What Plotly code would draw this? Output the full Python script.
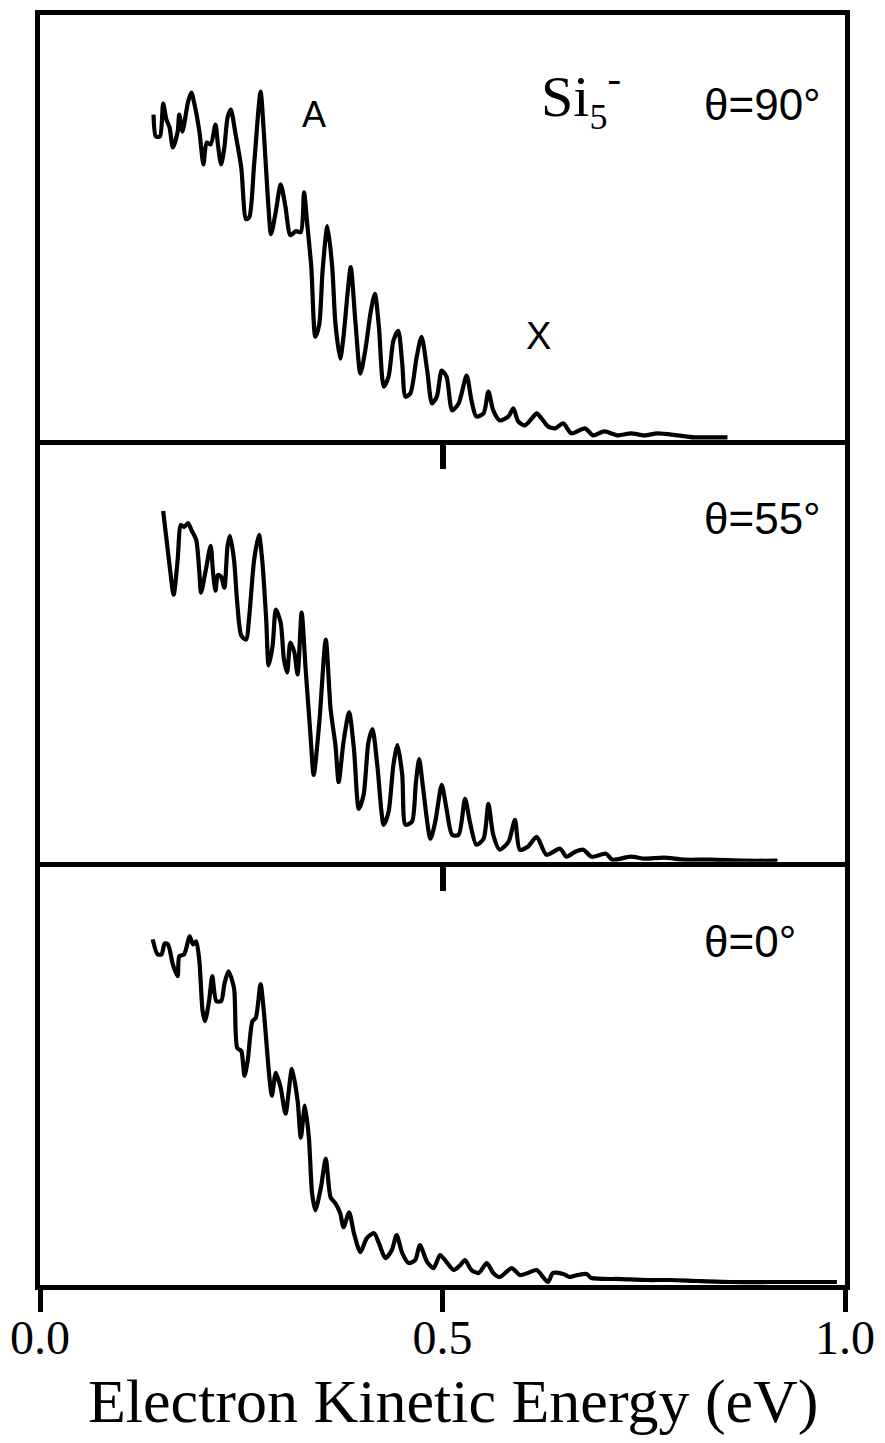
import plotly.graph_objects as go
from plotly.subplots import make_subplots

# ---- data (electron kinetic energy in eV, intensity in arbitrary units) ----
x_90 = [0.141, 0.144, 0.149, 0.153, 0.157, 0.161, 0.165, 0.171, 0.173, 0.177, 0.179, 0.184, 0.188, 0.192,
        0.198, 0.203, 0.207, 0.212, 0.218, 0.221, 0.225, 0.229, 0.233, 0.237, 0.243, 0.250, 0.256, 0.260,
        0.266, 0.274, 0.278, 0.283, 0.287, 0.293, 0.299, 0.305, 0.311, 0.318, 0.324, 0.328, 0.332, 0.337,
        0.342, 0.347, 0.351, 0.357, 0.363, 0.367, 0.373, 0.377, 0.382, 0.386, 0.392, 0.398, 0.404, 0.411,
        0.416, 0.421, 0.427, 0.433, 0.439, 0.445, 0.450, 0.454, 0.460, 0.468, 0.474, 0.481, 0.487, 0.493,
        0.499, 0.505, 0.512, 0.520, 0.530, 0.536, 0.542, 0.551, 0.557, 0.563, 0.571, 0.582, 0.588, 0.594,
        0.602, 0.611, 0.617, 0.623, 0.631, 0.640, 0.650, 0.660, 0.677, 0.687, 0.701, 0.718, 0.734, 0.751,
        0.767, 0.792, 0.813, 0.833, 0.854]
y_90 = [327, 305, 305, 338, 322, 314, 294, 310, 327, 310, 317, 340, 349, 337,
        310, 277, 299, 297, 317, 297, 277, 294, 324, 332, 307, 274, 222, 224,
        277, 350, 310, 244, 207, 230, 257, 234, 206, 210, 209, 249, 217, 174,
        104, 117, 170, 215, 174, 117, 82, 104, 147, 174, 117, 67, 90, 130,
        147, 114, 54, 64, 100, 110, 77, 44, 47, 84, 104, 70, 37, 44,
        70, 64, 30, 37, 65, 40, 24, 27, 49, 30, 20, 24, 32, 19,
        15, 22, 27, 22, 14, 12, 17, 7, 12, 5, 9, 5, 7, 5,
        7, 5, 3, 3, 3]

x_55 = [0.153, 0.161, 0.166, 0.171, 0.175, 0.179, 0.184, 0.188, 0.194, 0.198, 0.200, 0.206, 0.212, 0.215,
        0.218, 0.221, 0.225, 0.229, 0.233, 0.236, 0.241, 0.245, 0.250, 0.256, 0.260, 0.266, 0.272, 0.276,
        0.281, 0.284, 0.289, 0.293, 0.299, 0.303, 0.307, 0.311, 0.316, 0.320, 0.325, 0.330, 0.336, 0.340,
        0.347, 0.355, 0.361, 0.367, 0.371, 0.377, 0.384, 0.390, 0.396, 0.402, 0.408, 0.413, 0.419, 0.427,
        0.433, 0.439, 0.444, 0.450, 0.454, 0.462, 0.467, 0.471, 0.476, 0.485, 0.491, 0.499, 0.505, 0.512,
        0.520, 0.528, 0.534, 0.542, 0.551, 0.557, 0.563, 0.571, 0.582, 0.590, 0.596, 0.606, 0.617, 0.629,
        0.646, 0.654, 0.665, 0.675, 0.685, 0.703, 0.711, 0.734, 0.751, 0.775, 0.800, 0.833, 0.875, 0.916]
y_55 = [352, 297, 268, 303, 338, 336, 340, 333, 323, 290, 270, 293, 317, 290,
        272, 288, 286, 275, 317, 327, 303, 260, 227, 223, 247, 303, 328, 303,
        243, 197, 217, 253, 240, 203, 190, 220, 210, 188, 250, 193, 127, 87,
        140, 223, 153, 117, 80, 120, 150, 113, 53, 67, 120, 133, 97, 37,
        50, 97, 117, 87, 37, 40, 80, 103, 73, 23, 40, 77, 53, 27,
        27, 63, 40, 17, 23, 58, 27, 12, 20, 42, 12, 15, 25, 7,
        13, 5, 10, 12, 5, 8, 2, 5, 3, 4, 2, 2, 1, 1]

x_0 = [0.140, 0.146, 0.151, 0.155, 0.159, 0.165, 0.171, 0.173, 0.179, 0.186, 0.190, 0.194, 0.198, 0.202,
       0.205, 0.210, 0.214, 0.219, 0.225, 0.229, 0.234, 0.241, 0.245, 0.250, 0.254, 0.258, 0.264, 0.268,
       0.274, 0.278, 0.285, 0.288, 0.293, 0.299, 0.305, 0.313, 0.320, 0.324, 0.329, 0.334, 0.338, 0.342,
       0.349, 0.355, 0.361, 0.367, 0.373, 0.377, 0.384, 0.390, 0.398, 0.406, 0.415, 0.421, 0.429, 0.437,
       0.443, 0.450, 0.458, 0.466, 0.472, 0.481, 0.489, 0.497, 0.505, 0.514, 0.522, 0.528, 0.536, 0.545,
       0.555, 0.563, 0.571, 0.586, 0.596, 0.606, 0.617, 0.631, 0.637, 0.650, 0.658, 0.668, 0.679, 0.685,
       0.722, 0.755, 0.783, 0.817, 0.858, 0.907, 0.953, 0.990]
y_0 = [347, 332, 332, 343, 342, 322, 310, 330, 332, 350, 342, 345, 325, 275,
       265, 285, 310, 285, 285, 302, 315, 298, 238, 235, 210, 225, 265, 268,
       302, 275, 208, 190, 213, 198, 172, 217, 185, 148, 180, 148, 92, 75,
       98, 127, 88, 82, 72, 58, 73, 52, 33, 47, 52, 42, 27, 35,
       50, 32, 22, 25, 40, 23, 17, 30, 23, 15, 20, 25, 15, 12,
       22, 12, 8, 17, 10, 12, 15, 3, 12, 11, 8, 10, 11, 7,
       6, 5, 5, 4, 3, 3, 3, 3]

panel_labels = ["θ=90°", "θ=55°", "θ=0°"]
tick_vals = [0.0, 0.5, 1.0]
tick_text = ["0.0", "0.5", "1.0"]
x_title = "Electron Kinetic Energy (eV)"

# ---- figure ----
W, H = 885, 1443
L, R, T, B = 40, 37, 10, 158
fig = make_subplots(rows=3, cols=1, shared_xaxes=False, vertical_spacing=0)

series = [(x_90, y_90), (x_55, y_55), (x_0, y_0)]
for i, (xs, ys) in enumerate(series, start=1):
    fig.add_trace(go.Scatter(x=xs, y=ys, mode="lines",
                             line=dict(color="black", width=4.2, shape="spline", smoothing=0.7),
                             showlegend=False, hoverinfo="skip"), row=i, col=1)

# panel boundaries in pixels: 10 | 437 | 860 | 1285
plot_h = H - T - B
def py(p):
    return (H - B - p) / plot_h

domains = [[py(437), 1.0], [py(860), py(437)], [0.0, py(860)]]
ranges = [[0, 427], [0, 423], [0, 425]]
frame_w = 5
for i in range(3):
    xa = "xaxis" if i == 0 else f"xaxis{i+1}"
    ya = "yaxis" if i == 0 else f"yaxis{i+1}"
    last = (i == 2)
    fig.layout[xa].update(
        range=[0, 1], showgrid=False, zeroline=False,
        showline=True, linecolor="black", linewidth=frame_w,
        mirror=(i == 0),
        ticks="outside", tickcolor="black",
        tickvals=tick_vals if last else [0.5],
        ticktext=tick_text if last else ["0.5"],
        ticklen=22 if last else 24, tickwidth=5 if last else 6,
        showticklabels=last,
        ticklabelstandoff=-16 if last else 0,
        tickfont=dict(family="Liberation Serif, Times New Roman, serif", size=48, color="black"),
    )
    fig.layout[ya].update(
        domain=domains[i], range=ranges[i], showgrid=False, zeroline=False,
        showline=True, linecolor="black", linewidth=frame_w, mirror=True,
        ticks="", showticklabels=False,
    )

sans = "Liberation Sans, Arial, sans-serif"
serif = "Liberation Serif, Times New Roman, serif"
def px_x(p):
    return (p - L) / (W - L - R)

label_y = [100, 515, 940]
for lab, yy in zip(panel_labels, label_y):
    fig.add_annotation(text=lab, xref="paper", yref="paper", x=px_x(704), y=py(yy),
                       xanchor="left", yanchor="middle", showarrow=False,
                       font=dict(family=sans, size=44, color="black"))

fig.add_annotation(text="Si<sub><span style='font-size:36px'>5</span></sub><sup>-</sup>",
                   xref="paper", yref="paper",
                   x=px_x(541), y=py(92), xanchor="left", yanchor="middle", showarrow=False,
                   font=dict(family=serif, size=58, color="black"))
fig.add_annotation(text="A", xref="paper", yref="paper", x=px_x(315), y=py(110),
                   xanchor="center", yanchor="middle", showarrow=False,
                   font=dict(family=sans, size=36, color="black"))
fig.add_annotation(text="X", xref="paper", yref="paper", x=px_x(540), y=py(332),
                   xanchor="center", yanchor="middle", showarrow=False,
                   font=dict(family=sans, size=38, color="black"))
fig.add_annotation(text=x_title, xref="paper", yref="paper", x=px_x(455), y=py(1402),
                   xanchor="center", yanchor="middle", showarrow=False,
                   font=dict(family=serif, size=62, color="black"))

fig.update_layout(width=W, height=H, margin=dict(l=L, r=R, t=T, b=B),
                  paper_bgcolor="white", plot_bgcolor="white", showlegend=False)

fig.write_html("out.html")
